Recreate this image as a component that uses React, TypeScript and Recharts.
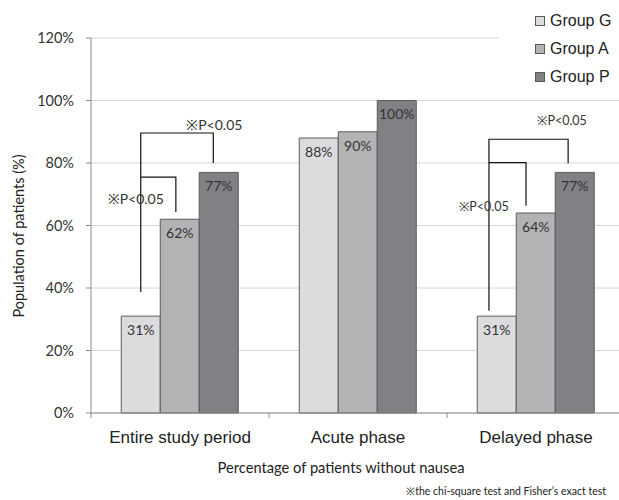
import React from "react";
import {
  BarChart,
  Bar,
  XAxis,
  YAxis,
  CartesianGrid,
  LabelList,
  Label,
} from "recharts";

const categories = ["Entire study period", "Acute phase", "Delayed phase"];
const seriesNames = ["Group G", "Group A", "Group P"];
const groupG = [31, 88, 31];
const groupA = [62, 90, 64];
const groupP = [77, 100, 77];
const yTicks = [0, 20, 40, 60, 80, 100, 120];

// significance brackets, levels in % on the y scale
const bracketIndex = [0, 2];
const bracketStart = [38.7, 32.7];
const outerLevel = [89.6, 87.6];
const outerEnd = [80, 79.9];
const innerLevel = [75.5, 80.1];
const innerEnd = [64.3, 66.3];
const outerTextAt = [92.2, 93.5];
const innerTextAt = [68.5, 66];
const pText = "※P<0.05";

const colors = ["#dcdcde", "#b3b3b5", "#818185"];
const barStroke = "#5b5b5b";
const calibriLike = "Lato, 'Open Sans', sans-serif";
const arialLike = "'Liberation Sans', Arial, sans-serif";

const data = categories.map((name, i) => ({
  name,
  g: groupG[i],
  a: groupA[i],
  p: groupP[i],
}));

const keys = ["g", "a", "p"];

const renderBrackets = (props: any) => {
  const { x, y, width, height, value, index } = props;
  const k = bracketIndex.indexOf(index);
  if (k < 0) return null;
  const bottom = y + height;
  const unit = height / value;
  const yOf = (v: number) => bottom - v * unit;
  const gx = x + width * (k === 0 ? 0.5 : 0.3);
  const ax = x + width * (k === 0 ? 1.4 : 1.25);
  const px = x + width * (k === 0 ? 2.36 : 2.33);
  const fs = k === 0 ? 14 : 12.5;
  return (
    <g>
      <polyline
        points={`${gx},${yOf(bracketStart[k])} ${gx},${yOf(outerLevel[k])} ${px},${yOf(outerLevel[k])} ${px},${yOf(outerEnd[k])}`}
        fill="none"
        stroke="#111"
        strokeWidth={1.2}
      />
      <polyline
        points={`${gx},${yOf(innerLevel[k])} ${ax},${yOf(innerLevel[k])} ${ax},${yOf(innerEnd[k])}`}
        fill="none"
        stroke="#111"
        strokeWidth={1.2}
      />
      <text
        x={px + (k === 0 ? 1 : -6)}
        y={yOf(outerTextAt[k])}
        textAnchor="middle"
        dominantBaseline="central"
        fontSize={fs}
        fontFamily={calibriLike}
        fill="#333"
      >
        {pText}
      </text>
      <text
        x={gx - 5}
        y={yOf(innerTextAt[k])}
        textAnchor="middle"
        dominantBaseline="central"
        fontSize={fs}
        fontFamily={calibriLike}
        fill="#333"
      >
        {pText}
      </text>
    </g>
  );
};

const CategoryTick = (props: any) => {
  const { x, y, payload, width, visibleTicksCount, index } = props;
  const half = width / visibleTicksCount / 2;
  const axisY = y - 18;
  return (
    <g>
      <line x1={x - half} x2={x - half} y1={axisY} y2={axisY + 5} stroke="#8c8c8c" />
      {index === visibleTicksCount - 1 && (
        <line x1={x + half} x2={x + half} y1={axisY} y2={axisY + 5} stroke="#8c8c8c" />
      )}
      <text
        x={x}
        y={y}
        dy="0.71em"
        textAnchor="middle"
        fontSize={17}
        fontFamily={arialLike}
        fill="#222"
      >
        {payload.value}
      </text>
    </g>
  );
};

const YTitle = () => {
  const cy = 236;
  return (
    <text
      x={18}
      y={cy}
      transform={`rotate(-90, 18, ${cy})`}
      textAnchor="middle"
      dominantBaseline="central"
      fontSize={14.5}
      fontFamily={calibriLike}
      fill="#222"
    >
      Population of patients (%)
    </text>
  );
};

export default function App() {
  return (
    <div
      style={{
        position: "absolute",
        left: 0,
        top: 0,
        width: 619,
        height: 500,
        overflow: "hidden",
        background: "#fff",
      }}
    >
      <BarChart
        width={640}
        height={500}
        data={data}
        margin={{ top: 38, right: 15, bottom: 25, left: 0 }}
        barCategoryGap="17%"
        barGap={0}
      >
        <CartesianGrid vertical={false} stroke="#d6d6d6" />
        <XAxis
          dataKey="name"
          height={62}
          axisLine={{ stroke: "#8c8c8c" }}
          tickLine={false}
          tickSize={0}
          tickMargin={18}
          tick={<CategoryTick />}
          interval={0}
        >
          <Label
            value="Percentage of patients without nausea"
            position="insideBottom"
            offset={2}
            dx={-17}
            fontSize={14.7}
            fontFamily={calibriLike}
            fill="#222"
          />
        </XAxis>
        <YAxis
          width={91}
          domain={[0, 120]}
          ticks={yTicks}
          interval={0}
          tickFormatter={(v: number) => `${v}%`}
          axisLine={{ stroke: "#8c8c8c" }}
          tickLine={{ stroke: "#8c8c8c" }}
          tickSize={5}
          tickMargin={12}
          tick={{ fontSize: 14.5, fontFamily: calibriLike, fill: "#333" }}
        >
          <Label content={<YTitle />} />
        </YAxis>
        {keys.map((k, i) => (
          <Bar
            key={k}
            dataKey={k}
            name={seriesNames[i]}
            fill={colors[i]}
            stroke={barStroke}
            strokeWidth={1}
            isAnimationActive={false}
          >
            <LabelList
              dataKey={k}
              position="insideTop"
              offset={9}
              formatter={(v: any) => `${v}%`}
              fontSize={14}
              fontFamily={calibriLike}
              fill="#333"
            />
            {i === 0 && <LabelList dataKey={k} content={renderBrackets} />}
          </Bar>
        ))}
      </BarChart>
      <div
        style={{
          position: "absolute",
          left: 499,
          top: 0,
          width: 120,
          height: 90,
          background: "#fff",
          paddingTop: 7,
          boxSizing: "border-box",
        }}
      >
        {seriesNames.map((n, i) => (
          <div
            key={n}
            style={{
              display: "flex",
              alignItems: "center",
              height: 28,
              paddingLeft: 36,
              fontFamily: arialLike,
              fontSize: 16,
              color: "#222",
            }}
          >
            <span
              style={{
                display: "inline-block",
                width: 8,
                height: 8,
                background: colors[i],
                border: `1px solid ${barStroke}`,
                marginRight: 5,
              }}
            />
            {n}
          </div>
        ))}
      </div>
      <div
        style={{
          position: "absolute",
          left: 0,
          top: 484,
          width: 606,
          textAlign: "right",
          fontFamily: calibriLike,
          fontSize: 10.5,
          lineHeight: "14px",
          color: "#222",
        }}
      >
        ※the chi-square test and Fisher’s exact test
      </div>
    </div>
  );
}
